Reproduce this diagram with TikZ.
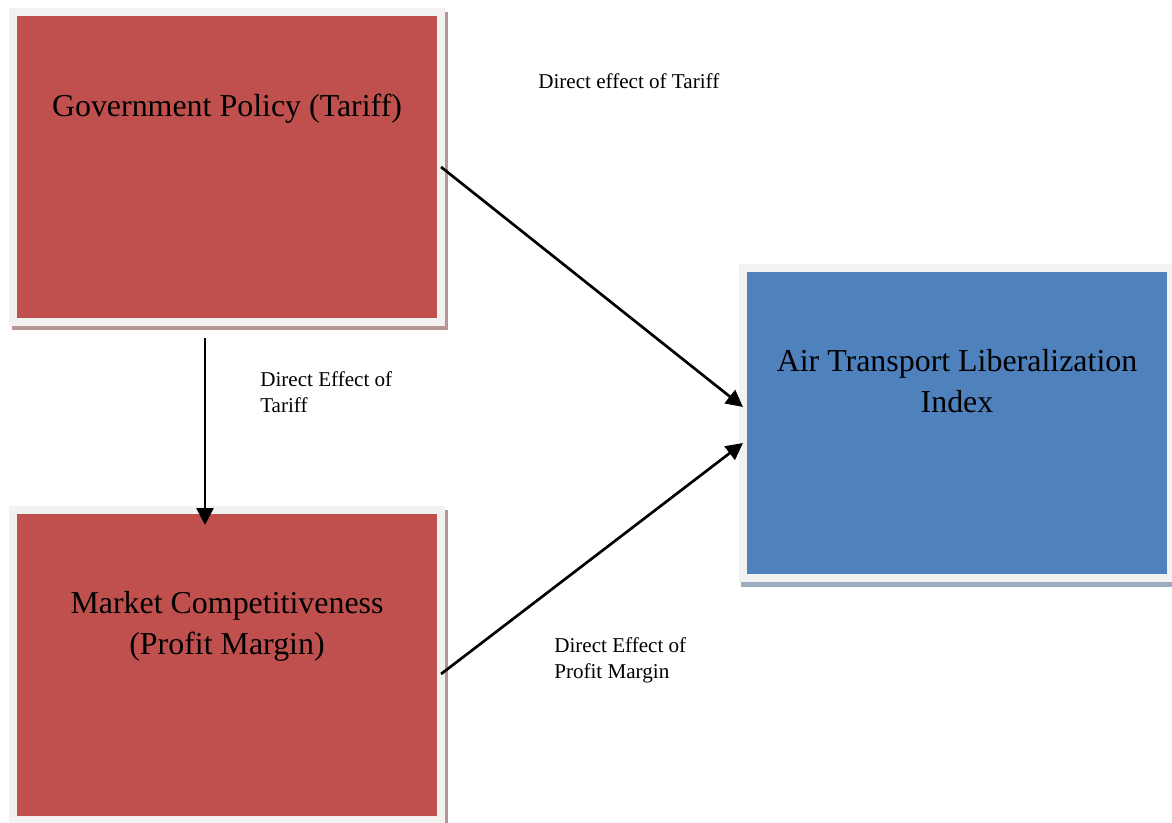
\documentclass[tikz,border=0pt]{standalone}
\usepackage{fontspec}
\setmainfont{Liberation Serif}
\usetikzlibrary{arrows.meta,positioning}
\definecolor{boxred}{HTML}{C0504D}
\definecolor{boxblue}{HTML}{4F81BD}
\definecolor{framegrey}{HTML}{F2F2F2}
\definecolor{shadowred}{HTML}{B99494}
\definecolor{shadowblue}{HTML}{9DABBE}

\begin{document}
\begin{tikzpicture}[x=0.025cm,y=-0.025cm,
    varbox/.style={draw=framegrey, line width=0.2cm, inner sep=0pt, outer sep=0pt,
        minimum width=10.7cm, minimum height=7.75cm},
    redbox/.style={varbox, fill=boxred,
        preaction={draw=shadowred, line width=0.2cm, transform canvas={shift={(0.075cm,-0.1cm)}}}},
    bluebox/.style={varbox, fill=boxblue,
        preaction={draw=shadowblue, line width=0.2cm, transform canvas={shift={(0.05cm,-0.125cm)}}}},
    title/.style={font=\fontsize{22.7}{29}\selectfont, align=center, inner sep=0pt},
    note/.style={font=\fontsize{15}{18.5}\selectfont, align=left, inner sep=0pt, anchor=west},
    link/.style={-{Triangle[length=0.42cm,width=0.42cm]}, line width=1.9pt}]
    \useasboundingbox (0,0) rectangle (1172,823);

    % Boxes
    \node[redbox] (gov) at (227,167) {};
    \node[redbox] (mc) at (227,665) {};
    \node[bluebox] (atl) at (957,423) {};

    % Box titles
    \node[title] (govtxt) at ([yshift=-2.43cm]gov.north) {Government Policy (Tariff)};
    \node[title] (mctxt) at ([yshift=-2.9cm]mc.north) {Market Competitiveness\\(Profit Margin)};
    \node[title] (atltxt) at ([yshift=-2.83cm]atl.north) {Air Transport Liberalization\\Index};

    % Arrows
    \draw[link] (gov.east) -- ([yshift=0.4cm]atl.west);
    \draw[link] ([yshift=-0.225cm]mc.east) -- ([yshift=-0.5cm]atl.west);
    \draw[link] ([xshift=-0.55cm,yshift=-0.41cm]gov.south) -- ([xshift=-0.55cm,yshift=-0.375cm]mc.north);

    % Labels
    \node[note] (lbltop) at (538,81) {Direct effect of Tariff};
    \node[note] (lblmid) at (260,392) {Direct Effect of\\Tariff};
    \node[note] (lblbot) at (554,660) {Direct Effect of\\Profit Margin};
\end{tikzpicture}
\end{document}
